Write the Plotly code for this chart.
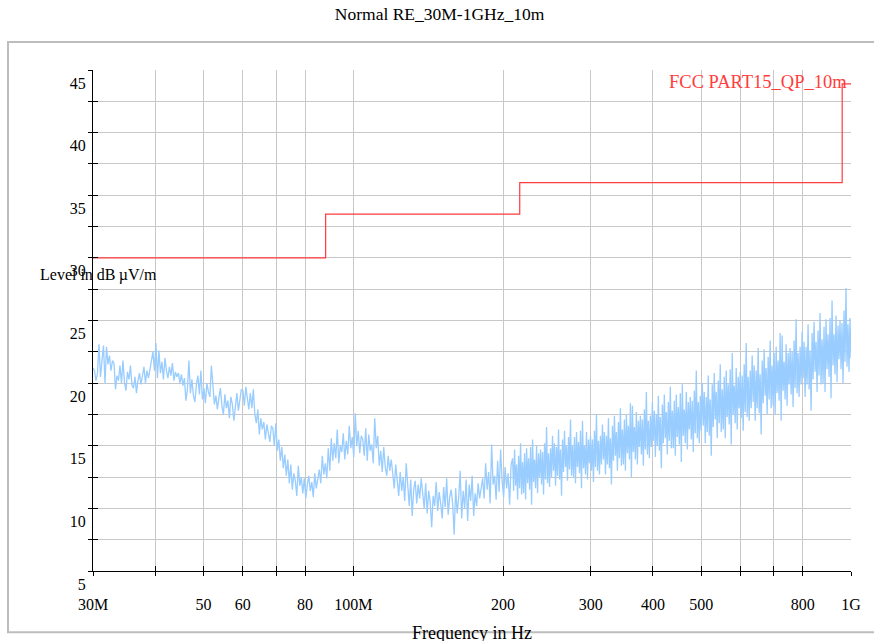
import numpy as np
import plotly.graph_objects as go

title_text = "Normal RE_30M-1GHz_10m"
y_title = "Level in dB\u202f\u00b5V/m"
x_title = "Frequency in Hz"
limit_name = "FCC PART15_QP_10m"

# measurement sweep (Hz): a coarser part below ~209 MHz and a denser part above
sweep_start_hz = 30e6
sweep_split_hz = 209e6
sweep_stop_hz = 1e9

level_low_dbuv = [
    21.2, 21.0, 20.2, 20.8, 23.1, 20.5, 21.8, 23.0, 20.0, 22.9, 21.5, 22.2, 21.0, 21.8, 21.6, 19.5, 20.6, 20.2, 21.4, 20.0,
    21.8, 20.1, 19.4, 20.9, 20.3, 21.4, 19.8, 19.6, 20.5, 19.2, 20.2, 20.8, 19.9, 20.6, 21.3, 20.0, 21.0, 20.4, 21.2, 22.0,
    22.5, 21.0, 23.2, 20.4, 22.6, 20.8, 21.7, 20.3, 22.0, 21.0, 20.4, 21.3, 20.6, 21.6, 20.2, 20.9, 20.5, 20.8, 20.0, 20.7,
    19.8, 20.4, 18.6, 19.5, 21.8, 19.2, 20.3, 19.0, 18.5, 19.9, 20.6, 19.1, 21.0, 18.7, 19.6, 18.4, 20.0, 19.3, 18.9, 21.4,
    19.5, 18.3, 19.0, 17.9, 18.8, 19.6, 18.2, 17.5, 19.1, 18.0, 18.6, 17.2, 18.9, 18.3, 17.0, 18.4, 19.2, 17.8, 18.6, 19.5,
    19.4, 18.2, 19.7, 18.6, 17.9, 19.2, 18.0, 19.5, 17.5, 16.8, 17.9, 15.9, 17.2, 16.3, 16.9, 15.5, 16.7, 16.0, 15.3, 16.6,
    16.4, 15.0, 16.8, 14.6, 15.5, 13.8, 14.9, 13.2, 14.3, 12.6, 13.9, 12.0, 13.5, 11.5, 12.8, 12.2, 11.0, 13.4, 11.8, 12.5,
    11.2, 12.4, 10.8, 11.9, 12.6, 11.4, 12.1, 10.9, 12.8, 11.6, 12.3, 13.1, 12.0, 14.2, 12.7, 13.6, 12.4, 14.8, 13.0, 15.6,
    13.8, 15.2, 14.0, 16.3, 13.6, 15.0, 14.5, 16.0, 13.9, 15.4, 14.3, 16.6, 14.8, 15.7, 14.1, 17.6, 15.0, 16.2, 14.4, 15.8,
    15.5, 14.2, 16.4, 13.8, 15.9, 14.6, 15.1, 13.6, 17.2, 14.8, 15.8, 13.4, 14.6, 12.9, 14.9, 13.3, 12.6, 14.2, 13.0, 13.9,
    12.8, 11.6, 13.5, 12.1, 11.0, 12.9, 11.4, 12.5, 10.6, 13.6, 11.8, 10.2, 12.3, 9.4, 11.5, 12.2, 10.4, 11.9, 10.8, 12.4,
    11.2, 10.0, 12.0, 9.6, 11.4, 10.5, 8.5, 11.0, 10.2, 12.1, 9.8, 11.3, 10.4, 9.2, 11.7, 10.1, 12.4, 9.5, 10.9, 11.5,
    10.4, 7.9, 11.6, 9.6, 10.8, 13.0, 9.2, 11.4, 10.0, 12.3, 9.0, 11.9, 10.6, 12.6, 9.4, 11.2, 10.2, 12.0, 10.8, 11.5,
    12.4, 10.8, 13.6, 11.5, 12.9, 10.4, 15.1, 11.9, 12.6, 10.7, 13.8, 11.3, 14.7, 12.2, 10.9, 13.3, 11.6, 12.8, 10.3, 13.5,
]

level_high_dbuv = [
    14.0, 11.4, 14.7, 11.8, 13.5, 10.7, 14.2, 11.6, 15.2, 11.1,
    13.7, 11.2, 14.4, 10.7, 14.8, 12.0, 14.0, 11.5, 14.9, 10.3,
    15.5, 12.1, 13.9, 11.6, 15.0, 11.2, 14.4, 12.5, 14.7, 11.9,
    14.5, 11.1, 15.2, 12.3, 16.5, 12.0, 14.4, 11.7, 14.8, 12.5,
    15.8, 13.0, 15.2, 11.8, 14.9, 12.6, 16.3, 12.3, 14.7, 11.0,
    15.5, 12.9, 16.2, 13.3, 15.0, 12.2, 15.7, 13.1, 17.1, 12.6,
    15.0, 12.5, 15.7, 12.0, 16.1, 13.3, 15.3, 12.8, 16.2, 11.6,
    17.0, 13.2, 15.0, 12.7, 16.1, 12.3, 15.5, 13.6, 15.8, 13.0,
    15.5, 12.1, 16.2, 13.3, 17.5, 13.0, 15.4, 12.7, 15.8, 13.5,
    16.7, 13.9, 16.1, 12.7, 15.8, 13.5, 17.2, 13.2, 15.6, 11.9,
    16.6, 13.8, 17.4, 14.2, 16.1, 13.0, 16.9, 14.0, 18.0, 13.4,
    16.3, 13.5, 17.1, 13.0, 17.5, 14.4, 16.6, 13.9, 18.4, 12.5,
    18.2, 14.5, 16.5, 13.9, 17.7, 13.5, 17.0, 14.9, 17.4, 14.3,
    17.1, 13.4, 17.9, 14.7, 19.3, 14.3, 17.0, 14.0, 17.4, 14.9,
    18.5, 15.4, 17.8, 14.1, 17.5, 15.0, 19.0, 14.6, 17.3, 13.2,
    18.3, 15.2, 19.1, 15.6, 17.7, 14.3, 18.5, 15.4, 19.7, 14.8,
    17.8, 14.8, 18.6, 14.2, 19.1, 15.7, 18.1, 15.1, 19.2, 13.7,
    19.9, 15.8, 17.9, 15.2, 19.3, 14.7, 18.5, 16.3, 18.9, 15.5,
    18.6, 14.5, 19.4, 16.0, 21.0, 15.6, 18.5, 15.2, 19.0, 16.2,
    20.0, 16.6, 19.3, 15.2, 18.9, 16.1, 20.6, 15.8, 18.7, 14.2,
    19.9, 16.5, 20.8, 17.1, 19.3, 15.6, 20.2, 16.8, 21.5, 16.1,
    19.5, 16.3, 20.5, 15.6, 21.0, 17.3, 19.9, 16.7, 21.1, 15.1,
    22.4, 17.5, 19.8, 16.8, 21.2, 16.3, 20.5, 18.0, 20.9, 17.2,
    20.6, 16.2, 21.5, 17.7, 23.2, 17.3, 20.5, 17.0, 21.0, 18.0,
    22.2, 18.5, 21.4, 17.0, 21.0, 18.0, 22.8, 17.6, 20.7, 15.9,
    21.8, 18.4, 22.7, 19.0, 21.2, 17.5, 22.1, 18.7, 23.4, 18.0,
    21.4, 18.2, 22.4, 17.5, 22.9, 19.2, 21.8, 18.6, 24.0, 17.0,
    23.8, 19.4, 21.7, 18.7, 23.1, 18.2, 22.4, 19.9, 22.8, 19.1,
    22.5, 18.1, 23.4, 19.6, 25.1, 19.2, 22.4, 18.9, 22.9, 19.9,
    24.1, 20.4, 23.3, 18.9, 22.9, 19.9, 24.7, 19.5, 22.6, 17.8,
    24.0, 20.3, 24.9, 20.9, 23.3, 19.3, 24.2, 20.6, 25.6, 19.9,
    23.5, 20.0, 24.5, 19.3, 25.1, 21.1, 23.9, 20.5, 25.2, 18.8,
    26.6, 21.4, 23.9, 20.7, 25.4, 20.1, 24.6, 21.9, 25.0, 21.1,
    24.8, 20.0, 25.8, 21.7, 27.6, 21.3, 24.7, 20.9, 25.2, 22.0,
]

# limit line
limit_freq_hz = [30e6, 88e6, 216e6, 960e6, 1e9]
limit_level = [30.0, 33.5, 36.0, 43.9, 43.9]

x_tick_hz = [30e6, 40e6, 50e6, 60e6, 70e6, 80e6, 100e6, 200e6, 300e6, 400e6, 500e6, 600e6, 700e6, 800e6, 1e9]
x_tick_text = ["30M", "", "50", "60", "", "80", "100M", "200", "300", "400", "500", "", "", "800", "1G"]
y_tick_vals = [5, 7.5, 10, 12.5, 15, 17.5, 20, 22.5, 25, 27.5, 30, 32.5, 35, 37.5, 40, 42.5, 45]
y_tick_text = ["5", "", "10", "", "15", "", "20", "", "25", "", "30", "", "35", "", "40", "", "45"]

freq_hz = np.concatenate([
    np.geomspace(sweep_start_hz, sweep_split_hz, len(level_low_dbuv), endpoint=False),
    np.geomspace(sweep_split_hz, sweep_stop_hz, len(level_high_dbuv)),
])
level_dbuv = level_low_dbuv + level_high_dbuv

FONT = "Liberation Serif, Times New Roman, serif"
BLUE = "#99ccff"
RED = "#ff3c3c"
GRID = "#c8c8c8"

xr = [np.log10(sweep_start_hz), np.log10(sweep_stop_hz)]
yr = [5, 45]

fig = go.Figure()
fig.add_trace(go.Scatter(x=freq_hz, y=level_dbuv, mode="lines",
                         line=dict(color=BLUE, width=1.3), showlegend=False))
fig.add_trace(go.Scatter(x=limit_freq_hz, y=limit_level, mode="lines",
                         line=dict(color=RED, width=1.2, shape="hv"),
                         xaxis="x2", yaxis="y2", showlegend=False))

fig.update_layout(
    width=874, height=641,
    margin=dict(l=93, r=23, t=70, b=70),
    paper_bgcolor="white", plot_bgcolor="white",
    font=dict(family=FONT, size=16, color="black"),
    title=dict(text=title_text, x=0.503, xref="container", xanchor="center",
               y=1 - 14 / 641, yref="container", yanchor="middle",
               font=dict(family=FONT, size=17.5, color="black")),
    xaxis=dict(type="log", range=xr, tickvals=x_tick_hz, ticktext=x_tick_text,
               showgrid=True, gridcolor=GRID, gridwidth=1,
               showline=True, linecolor="black", linewidth=1.2,
               ticks="outside", ticklen=4, tickcolor="black",
               ticklabelstandoff=15, zeroline=False, automargin=False,
               tickfont=dict(family=FONT, size=16)),
    yaxis=dict(range=yr, tickvals=y_tick_vals, ticktext=y_tick_text,
               showgrid=True, gridcolor=GRID, gridwidth=1,
               showline=True, linecolor="black", linewidth=1.2,
               ticks="outside", ticklen=4, tickcolor="black",
               ticklabelshift=13, ticklabelstandoff=-1, zeroline=False, automargin=False,
               tickfont=dict(family=FONT, size=16)),
    xaxis2=dict(type="log", range=xr, overlaying="x", anchor="y2",
                tickvals=x_tick_hz, ticks="inside", ticklen=5, tickcolor="black",
                showticklabels=False, showgrid=False, showline=False, zeroline=False),
    yaxis2=dict(range=yr, overlaying="y", anchor="x2", side="left",
                tickvals=y_tick_vals, ticks="inside", ticklen=5, tickcolor="black",
                showticklabels=False, showgrid=False, showline=False, zeroline=False),
)

fig.add_annotation(text=y_title, xref="paper", yref="paper",
                   x=(38 - 93) / 758, y=(570.7 - 275) / 500.7,
                   xanchor="left", yanchor="middle", showarrow=False,
                   font=dict(family=FONT, size=16, color="black"))
fig.add_annotation(text=x_title, xref="paper", yref="paper",
                   x=0.5, y=(570.7 - 633) / 500.7,
                   xanchor="center", yanchor="middle", showarrow=False,
                   font=dict(family=FONT, size=18, color="black"))
fig.add_annotation(text=limit_name, xref="paper", yref="paper",
                   x=0.997, y=(570.7 - 82) / 500.7,
                   xanchor="right", yanchor="middle", showarrow=False,
                   font=dict(family=FONT, size=18.5, color=RED))

fig.add_shape(type="rect", xref="paper", yref="paper",
              x0=(8 - 93) / 758, x1=1.2, y0=(570.7 - 632) / 500.7, y1=(570.7 - 42) / 500.7,
              line=dict(color="#bdbdbd", width=2), fillcolor="rgba(0,0,0,0)", layer="above")

fig.write_html("out.html", config={"displayModeBar": False},
               post_script="document.body.style.margin='0';document.body.style.overflow='hidden';")
